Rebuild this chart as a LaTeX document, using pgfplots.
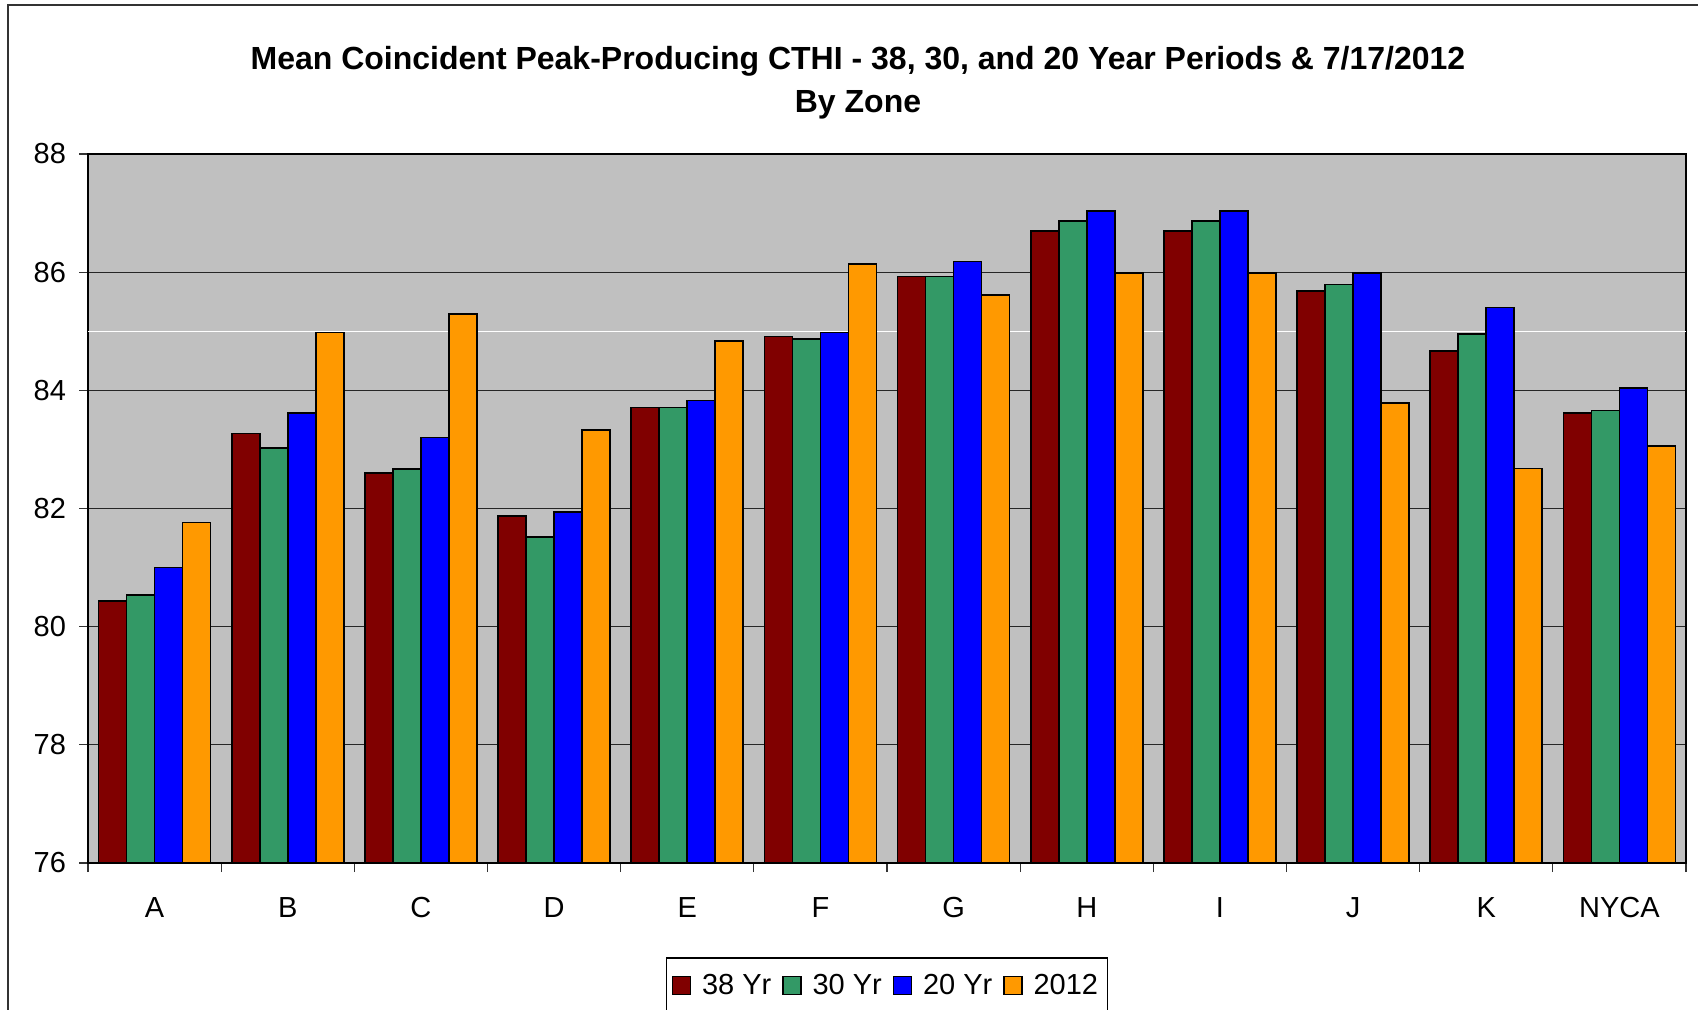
\documentclass[border=0pt]{standalone}
\usepackage{pgfplots}
\usepackage{pgfplotstable}
\pgfplotsset{compat=1.18}
\usepackage{fontspec}
\setmainfont{Liberation Sans}
\definecolor{c38}{HTML}{800000}
\definecolor{c30}{HTML}{339966}
\definecolor{c20}{HTML}{0000FF}
\definecolor{c12}{HTML}{FF9900}
\definecolor{plotbg}{HTML}{C0C0C0}
\pgfplotstableread{
x  y38   y30   y20   y12
0  80.43 80.54 81.00 81.76
1  83.27 83.02 83.62 84.98
2  82.60 82.67 83.20 85.29
3  81.87 81.52 81.94 83.33
4  83.71 83.71 83.83 84.84
5  84.91 84.87 84.98 86.14
6  85.93 85.93 86.18 85.61
7  86.70 86.87 87.04 85.99
8  86.70 86.87 87.04 85.99
9  85.68 85.79 85.99 83.79
10 84.67 84.95 85.40 82.68
11 83.62 83.66 84.04 83.06
}\datatable
\begin{document}
\begin{tikzpicture}
\useasboundingbox (0,0) rectangle (849pt,-505pt);
\begin{scope}[x=0.5pt,y=-0.5pt]
\draw[line width=1pt, black!80] (7.5,5.5) rectangle (1760,1060);
\node[font=\fontsize{16}{19}\selectfont\bfseries] at (858,61) {Mean Coincident Peak-Producing CTHI - 38, 30, and 20 Year Periods \& 7/17/2012};
\node[font=\fontsize{16}{19}\selectfont\bfseries] at (858,105) {By Zone};
\end{scope}
\begin{axis}[
  at={(44pt,-431.5pt)}, anchor=south west,
  scale only axis, width=799pt, height=354.5pt,
  ybar=0pt, bar width=14pt,
  xmin=-0.5, xmax=11.5, ymin=76, ymax=88,
  ytick={76,78,...,88},
  xtick={-0.5,0.5,...,11.5},
  x tick label as interval,
  xticklabels={A,B,C,D,E,F,G,H,I,J,K,NYCA},
  axis background/.style={fill=plotbg},
  ymajorgrids, xmajorgrids=false,
  major grid style={black!85, line width=0.5pt},
  extra y ticks={85}, extra y tick labels={},
  extra y tick style={grid=major, major grid style={white, line width=0.6pt}, major tick length=0pt},
  tick align=outside, xtick pos=bottom, ytick pos=left,
  major tick length=4.5pt,
  tick style={black!80, line width=0.6pt},
  axis line style={black, line width=0.8pt},
  tick label style={font=\fontsize{14.5}{17}\selectfont},
  xticklabel style={yshift=-9pt},
  yticklabel style={xshift=-3pt},
  /pgf/number format/assume math mode=true,
  legend style={at={(0.5,-0.173)}, anchor=center, legend columns=4, draw=black, line width=0.6pt,
    font=\fontsize{14.5}{17}\selectfont, inner xsep=2.5pt, inner ysep=6pt,
    /tikz/every odd column/.append style={column sep=3.5pt},
    /tikz/every even column/.append style={column sep=3.5pt}},
  legend image code/.code={\draw[#1, draw=black, line width=0.6pt] (0pt,-4.5pt) rectangle (9pt,4.5pt);},
]
\addplot[fill=c38, draw=black, line width=0.8pt] table[x=x,y=y38] {\datatable};
\addplot[fill=c30, draw=black, line width=0.8pt] table[x=x,y=y30] {\datatable};
\addplot[fill=c20, draw=black, line width=0.8pt] table[x=x,y=y20] {\datatable};
\addplot[fill=c12, draw=black, line width=0.8pt] table[x=x,y=y12] {\datatable};
\legend{38 Yr, 30 Yr, 20 Yr, 2012}
\end{axis}
\end{tikzpicture}
\end{document}
